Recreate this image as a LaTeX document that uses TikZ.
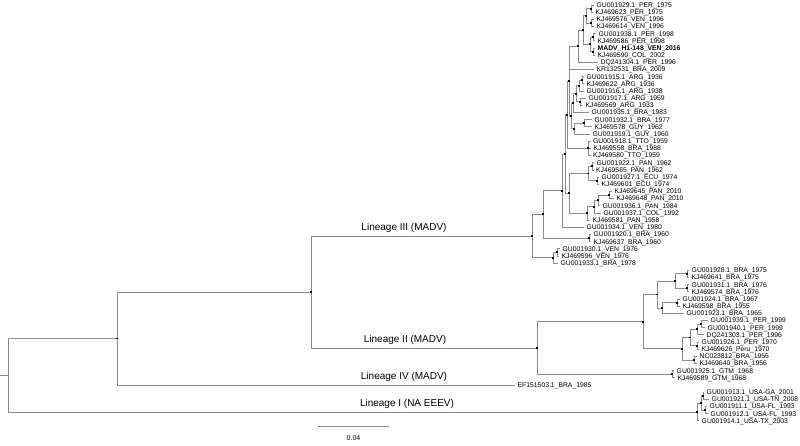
\documentclass[tikz,border=0pt]{standalone}
\usepackage{fontspec}
\setmainfont{Liberation Sans}
\definecolor{brc}{RGB}{140,140,140}
\tikzset{
 br/.style={draw=brc, line width=0.8pt},
 lf/.style={anchor=base west, inner sep=0pt, xshift=2.5pt, yshift=-2.4pt, font=\fontsize{6.8}{7}\selectfont},
 lin/.style={anchor=base, inner sep=0pt, font=\fontsize{10}{12}\selectfont},
 dotn/.style={fill=black, draw=none, inner sep=0pt, minimum size=1.9pt, rectangle}
}
\newcommand\myleaf[4]{\coordinate (#1) at (#2,#3); \node[lf] (t#1) at (#1) {#4};}
\begin{document}
\begin{tikzpicture}[x=1pt,y=-1pt]
\useasboundingbox (0,0) rectangle (800,446);
\fill[white] (0,0) rectangle (800,446);
% leaves
\myleaf{l1}{594}{5.00}{GU001929.1\_PER\_1975}
\myleaf{l2}{593}{12.17}{KJ469623\_PER\_1975}
\myleaf{l3}{594}{19.34}{KJ469576\_VEN\_1996}
\myleaf{l4}{594}{26.51}{KJ469614\_VEN\_1996}
\myleaf{l5}{596}{33.68}{GU001938.1\_PER\_1998}
\myleaf{l6}{595}{40.85}{KJ469586\_PER\_1998}
\myleaf{l7}{595}{48.02}{\textbf{MADV\_H1-148\_VEN\_2016}}
\myleaf{l8}{595}{55.19}{KJ469590\_COL\_2002}
\myleaf{l9}{598}{62.36}{DQ241304.1\_PER\_1996}
\myleaf{l10}{594}{69.53}{KR132531\_BRA\_2009}
\myleaf{l11}{584}{76.70}{GU001915.1\_ARG\_1936}
\myleaf{l12}{584}{83.87}{KJ469622\_ARG\_1936}
\myleaf{l13}{584}{91.04}{GU001916.1\_ARG\_1938}
\myleaf{l14}{586}{98.21}{GU001917.1\_ARG\_1959}
\myleaf{l15}{583}{105.38}{KJ469569\_ARG\_1933}
\myleaf{l16}{589}{112.55}{GU001935.1\_BRA\_1983}
\myleaf{l17}{592}{119.72}{GU001932.1\_BRA\_1977}
\myleaf{l18}{592}{126.89}{KJ469578\_GUY\_1962}
\myleaf{l19}{590}{134.06}{GU001919.1\_GUY\_1960}
\myleaf{l20}{590.5}{141.23}{GU001918.1\_TTO\_1959}
\myleaf{l21}{591}{148.40}{KJ469558\_BRA\_1988}
\myleaf{l22}{590.5}{155.57}{KJ469580\_TTO\_1959}
\myleaf{l23}{594}{162.74}{GU001922.1\_PAN\_1962}
\myleaf{l24}{593.5}{169.91}{KJ469565\_PAN\_1962}
\myleaf{l25}{599}{177.08}{GU001927.1\_ECU\_1974}
\myleaf{l26}{599}{184.25}{KJ469601\_ECU\_1974}
\myleaf{l27}{612}{191.42}{KJ469645\_PAN\_2010}
\myleaf{l28}{614}{198.59}{KJ469648\_PAN\_2010}
\myleaf{l29}{600}{205.76}{GU001936.1\_PAN\_1984}
\myleaf{l30}{601}{212.93}{GU001937.1\_COL\_1992}
\myleaf{l31}{590}{220.10}{KJ469581\_PAN\_1958}
\myleaf{l32}{584}{227.27}{GU001934.1\_VEN\_1980}
\myleaf{l33}{591}{234.44}{GU001920.1\_BRA\_1960}
\myleaf{l34}{591}{241.61}{KJ469637\_BRA\_1960}
\myleaf{l35}{560}{248.78}{GU001930.1\_VEN\_1976}
\myleaf{l36}{559}{255.95}{KJ469596\_VEN\_1976}
\myleaf{l37}{558}{263.12}{GU001933.1\_BRA\_1978}
\myleaf{l38}{689}{270.29}{GU001928.1\_BRA\_1975}
\myleaf{l39}{689}{277.46}{KJ469641\_BRA\_1975}
\myleaf{l40}{689}{284.63}{GU001931.1\_BRA\_1976}
\myleaf{l41}{689}{291.80}{KJ469574\_BRA\_1976}
\myleaf{l42}{680}{298.97}{GU001924.1\_BRA\_1967}
\myleaf{l43}{680}{306.14}{KJ469598\_BRA\_1955}
\myleaf{l44}{684}{313.31}{GU001923.1\_BRA\_1965}
\myleaf{l45}{708}{320.48}{GU001939.1\_PER\_1999}
\myleaf{l46}{705}{327.65}{GU001940.1\_PER\_1999}
\myleaf{l47}{704}{334.82}{DQ241303.1\_PER\_1996}
\myleaf{l48}{699}{341.99}{GU001926.1\_PER\_1970}
\myleaf{l49}{699}{349.16}{KJ469626\_Peru\_1970}
\myleaf{l50}{697}{356.33}{NC023812\_BRA\_1956}
\myleaf{l51}{697}{363.50}{KJ469640\_BRA\_1956}
\myleaf{l52}{674}{370.67}{GU001925.1\_GTM\_1968}
\myleaf{l53}{675}{377.84}{KJ469589\_GTM\_1968}
\myleaf{l54}{515}{385.01}{EF151503.1\_BRA\_1985}
\myleaf{l55}{704}{392.18}{GU001913.1\_USA-GA\_2001}
\myleaf{l56}{709}{399.35}{GU001921.1\_USA-TN\_2008}
\myleaf{l57}{707}{406.52}{GU001911.1\_USA-FL\_1993}
\myleaf{l58}{708}{413.69}{GU001912.1\_USA-FL\_1993}
\myleaf{l59}{699}{420.86}{GU001914.1\_USA-TX\_2003}
% internal nodes
\coordinate (n1) at (591,8.585);
\coordinate (n2) at (591,22.925);
\coordinate (n3) at (586,15.755);
\coordinate (n4) at (593,37.265);
\coordinate (n5) at (593,51.605);
\coordinate (n6) at (590,44.435);
\coordinate (n7) at (583,30.095);
\coordinate (n8) at (578,46.23);
\coordinate (n10) at (582,80.285);
\coordinate (n11) at (579,85.66);
\coordinate (n12) at (580,101.795);
\coordinate (n13) at (576,93.73);
\coordinate (n14) at (573,103.14);
\coordinate (n15) at (584,123.305);
\coordinate (n16) at (574,128.68);
\coordinate (n17) at (571,115.91);
\coordinate (A1) at (569,81.07);
\coordinate (T) at (588,148.40);
\coordinate (Z) at (567,114.735);
\coordinate (q1) at (592,166.325);
\coordinate (q2) at (597,180.665);
\coordinate (q3) at (588,173.495);
\coordinate (q4) at (609,195.005);
\coordinate (q5) at (598,200.38);
\coordinate (q6) at (594,206.655);
\coordinate (q7) at (587,213.38);
\coordinate (P) at (569,193.44);
\coordinate (Y) at (565,154.09);
\coordinate (W) at (562,190.68);
\coordinate (X) at (589,238.025);
\coordinate (Uu) at (543,214.35);
\coordinate (s1) at (557,252.365);
\coordinate (V) at (553,257.74);
\coordinate (L3) at (532,236.05);
\coordinate (b1) at (687,273.875);
\coordinate (b2) at (687,288.215);
\coordinate (UG) at (675,281.045);
\coordinate (b3) at (677,302.555);
\coordinate (LG) at (662,307.93);
\coordinate (Bn) at (657,294.49);
\coordinate (p1) at (701,324.065);
\coordinate (p2) at (697,329.44);
\coordinate (p3) at (697,345.575);
\coordinate (p4) at (690,337.51);
\coordinate (p5) at (694,359.915);
\coordinate (p6) at (682,348.71);
\coordinate (M) at (643,321.6);
\coordinate (G) at (672,374.255);
\coordinate (L2) at (537,347.93);
\coordinate (N311) at (311,291.99);
\coordinate (N117) at (117,338.5);
\coordinate (u1) at (703,395.765);
\coordinate (u2) at (705,410.105);
\coordinate (u3) at (701,402.935);
\coordinate (U1) at (697,411.9);
\coordinate (R) at (8,375.2);
\coordinate (r0) at (0,375.2);
% branches
\foreach \p/\c in {n1/l1,n1/l2,n2/l3,n2/l4,n3/n1,n3/n2,n4/l5,n4/l6,n5/l7,n5/l8,n6/n4,n6/n5,n7/n3,n7/n6,n8/n7,n8/l9,
 n10/l11,n10/l12,n11/n10,n11/l13,n12/l14,n12/l15,n13/n11,n13/n12,n14/n13,n14/l16,n15/l17,n15/l18,n16/n15,n16/l19,n17/n14,n17/n16,
 A1/n8,A1/l10,A1/n17,T/l20,T/l21,T/l22,Z/A1,Z/T,
 q1/l23,q1/l24,q2/l25,q2/l26,q3/q1,q3/q2,q4/l27,q4/l28,q5/q4,q5/l29,q6/q5,q6/l30,q7/q6,q7/l31,P/q3,P/q7,
 Y/Z,Y/P,W/Y,W/l32,X/l33,X/l34,Uu/W,Uu/X,s1/l35,s1/l36,V/s1,V/l37,L3/Uu,L3/V,
 b1/l38,b1/l39,b2/l40,b2/l41,UG/b1,UG/b2,b3/l42,b3/l43,LG/b3,LG/l44,Bn/UG,Bn/LG,
 p1/l45,p1/l46,p2/p1,p2/l47,p3/l48,p3/l49,p4/p2,p4/p3,p5/l50,p5/l51,p6/p4,p6/p5,M/Bn,M/p6,G/l52,G/l53,L2/M,L2/G,
 N311/L3,N311/L2,N117/N311,N117/l54,u1/l55,u1/l56,u2/l57,u2/l58,u3/u1,u3/u2,U1/u3,U1/l59,R/N117,R/U1}
 {\draw[br] (\p) |- (\c);}
\draw[br] (r0) -- (R);
% node markers
\foreach \d in {n1,n2,n3,n4,n5,n6,n7,n8,n10,n11,n12,n13,n14,n15,n16,n17,A1,T,Z,q1,q2,q3,q4,q5,q6,q7,P,Y,W,X,Uu,s1,V,L3,
 b1,b2,UG,b3,LG,Bn,p1,p2,p3,p4,p5,p6,M,G,L2,N311,N117,u1,u2,u3,U1}
 {\node[dotn] (d\d) at (\d) {};}
% lineage labels
\node[lin] (labIII) at (404,230.5) {Lineage III (MADV)};
\node[lin] (labII) at (405,342.5) {Lineage II (MADV)};
\node[lin] (labIV) at (404,379.5) {Lineage IV (MADV)};
\node[lin] (labI) at (407,406.5) {Lineage I (NA EEEV)};
% scale bar
\coordinate (sb1) at (318,426);
\coordinate (sb2) at (389,426);
\draw[br] (sb1) -- (sb2);
\node[inner sep=0pt, font=\fontsize{7}{8}\selectfont] (sbl) at (353.5,438) {0.04};
\end{tikzpicture}
\end{document}
